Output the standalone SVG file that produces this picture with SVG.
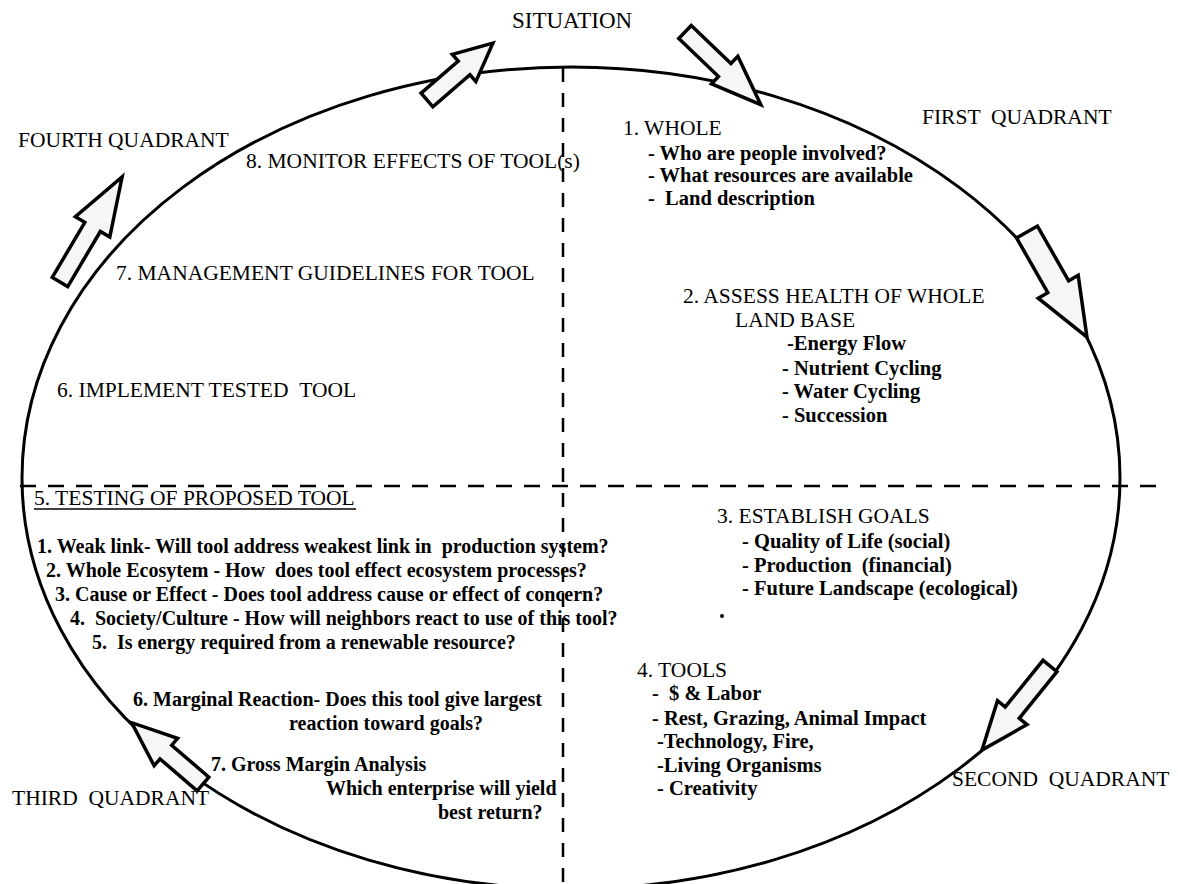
<svg xmlns="http://www.w3.org/2000/svg" width="1178" height="884" viewBox="0 0 1178 884">
<style>
text{font-family:"Liberation Serif","Times New Roman",serif;fill:#000}
.h{font-size:21.5px}
.b{font-size:20.5px;font-weight:bold}
.t{font-size:20px;font-weight:bold}
.frame{fill:none;stroke:#000;stroke-width:3}
.dash{stroke:#000;stroke-width:2.5;fill:none}
.arrow{fill:#f6f6f6;stroke:#000;stroke-width:3.5;stroke-linejoin:miter}
</style>
<rect width="1178" height="884" fill="#fff"/>
<g id="frame">
<ellipse class="frame" cx="571" cy="478" rx="549" ry="411"/>
<line class="dash" x1="563" y1="68" x2="563" y2="884" stroke-dasharray="14 11"/>
<line class="dash" x1="20" y1="486" x2="1156" y2="486" stroke-dasharray="16 12"/>
</g>
<g id="connectors">
<polygon class="arrow" transform="translate(427,100) rotate(-40.8)" points="0,-9 49,-9 49,-18 87,0 49,18 49,9 0,9"/>
<polygon class="arrow" transform="translate(685,32) rotate(43.8)" points="0,-9 55,-9 55,-19 105,0 55,19 55,9 0,9"/>
<polygon class="arrow" transform="translate(1027,232) rotate(60.3)" points="0,-12 63,-12 63,-23 121,0 63,23 63,12 0,12"/>
<polygon class="arrow" transform="translate(1050,666) rotate(129)" points="0,-9 60,-9 60,-19 108,0 60,19 60,9 0,9"/>
<polygon class="arrow" transform="translate(203,784) rotate(-139.3)" points="0,-9 49,-9 49,-18 94,0 49,18 49,9 0,9"/>
<polygon class="arrow" transform="translate(60,282) rotate(-59.4)" points="0,-9 64,-9 64,-20 122,0 64,20 64,9 0,9"/>
</g>
<g id="situation"><text x="512" y="28" style="font-size:23px">SITUATION</text></g>
<g id="first-quadrant"><text class="h" x="922" y="124">FIRST &#160;QUADRANT</text></g>
<g id="fourth-quadrant"><text class="h" x="18" y="147">FOURTH QUADRANT</text></g>
<g id="third-quadrant"><text class="h" x="12" y="805">THIRD &#160;QUADRANT</text></g>
<g id="second-quadrant"><text class="h" x="952" y="786">SECOND &#160;QUADRANT</text></g>
<g id="step8"><text class="h" x="246" y="168">8. MONITOR EFFECTS OF TOOL(s)</text></g>
<g id="step7"><text class="h" x="116" y="280">7. MANAGEMENT GUIDELINES FOR TOOL</text></g>
<g id="step6"><text class="h" x="57" y="397">6. IMPLEMENT TESTED &#160;TOOL</text></g>
<g id="step1">
<text class="h" x="623" y="135">1. WHOLE</text>
<text class="b" x="648" y="160">- Who are people involved?</text>
<text class="b" x="648" y="182">- What resources are available</text>
<text class="b" x="648" y="205">- &#160;Land description</text>
</g>
<g id="step2">
<text class="h" x="683" y="303">2. ASSESS HEALTH OF WHOLE</text>
<text class="h" x="735" y="327">LAND BASE</text>
<text class="b" x="787" y="350">-Energy Flow</text>
<text class="b" x="782" y="375">- Nutrient Cycling</text>
<text class="b" x="782" y="398">- Water Cycling</text>
<text class="b" x="782" y="422">- Succession</text>
</g>
<g id="step3">
<text class="h" x="717" y="523">3. ESTABLISH GOALS</text>
<text class="b" x="742" y="548">- Quality of Life (social)</text>
<text class="b" x="742" y="572">- Production &#160;(financial)</text>
<text class="b" x="742" y="595">- Future Landscape (ecological)</text>
<circle cx="722" cy="616" r="2" fill="#000"/>
</g>
<g id="step4">
<text class="h" x="637" y="677">4. TOOLS</text>
<text class="b" x="652" y="700">- &#160;$ &amp; Labor</text>
<text class="b" x="652" y="725">- Rest, Grazing, Animal Impact</text>
<text class="b" x="657" y="748">-Technology, Fire,</text>
<text class="b" x="657" y="772">-Living Organisms</text>
<text class="b" x="657" y="795">- Creativity</text>
</g>
<g id="step5">
<text class="h" x="34" y="505">5. TESTING OF PROPOSED TOOL</text>
<line x1="34" y1="509" x2="356" y2="509" stroke="#000" stroke-width="1.5"/>
<text class="t" x="37" y="553">1. Weak link- Will tool address weakest link in &#160;production system?</text>
<text class="t" x="46" y="577">2. Whole Ecosytem - How &#160;does tool effect ecosystem processes?</text>
<text class="t" x="55" y="601">3. Cause or Effect - Does tool address cause or effect of concern?</text>
<text class="t" x="70" y="625">4. &#160;Society/Culture - How will neighbors react to use of this tool?</text>
<text class="t" x="92" y="649">5. &#160;Is energy required from a renewable resource?</text>
<text class="t" x="133" y="706">6. Marginal Reaction- Does this tool give largest</text>
<text class="t" x="289" y="730">reaction toward goals?</text>
<text class="t" x="211" y="771">7. Gross Margin Analysis</text>
<text class="t" x="326" y="795">Which enterprise will yield</text>
<text class="t" x="438" y="819">best return?</text>
</g>
</svg>
